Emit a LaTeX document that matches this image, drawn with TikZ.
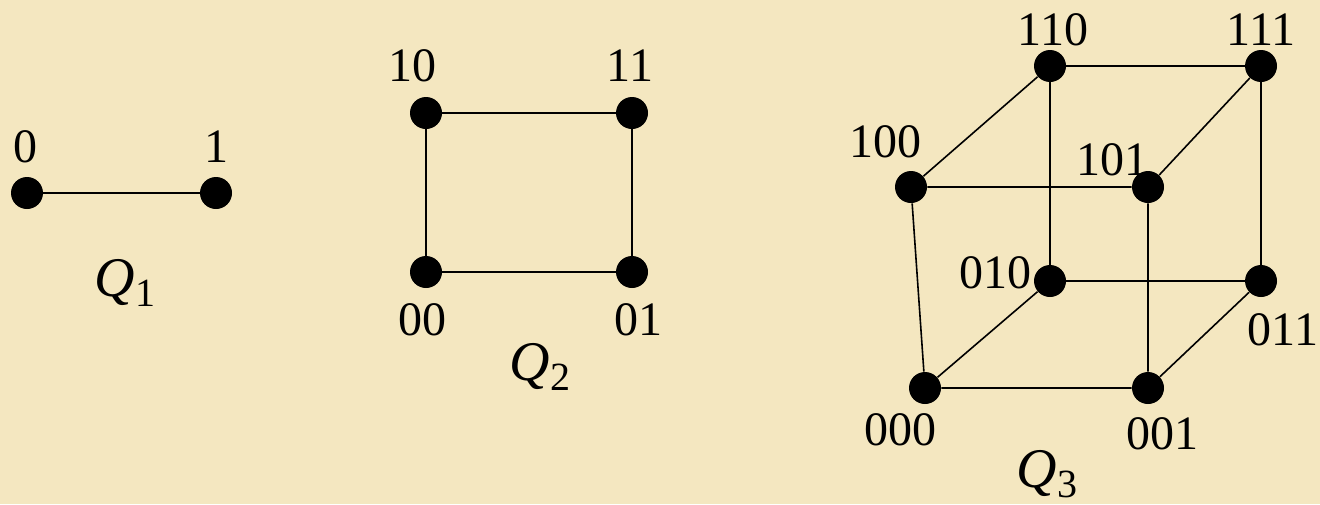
\documentclass[tikz,border=0pt]{standalone}
\usepackage{fontspec}
\setmainfont{Liberation Serif}
\usepackage{tikz}
\usetikzlibrary{positioning}
\definecolor{parchment}{RGB}{244,231,192}
\tikzset{
  vtx/.style={circle,fill=black,inner sep=0pt,minimum size=16pt},
  bits/.style={font=\fontsize{24}{28}\selectfont,inner sep=0pt},
  qname/.style={font=\fontsize{28}{32}\selectfont,inner sep=0pt},
  edge/.style={line width=0.8pt}
}
\newcommand{\qcube}[1]{\textit{Q}\raisebox{-0.4ex}{\fontsize{20}{22}\selectfont #1}}

\begin{document}
\begin{tikzpicture}[x=0.5pt,y=-0.5pt]
  \fill[parchment] (0,0) rectangle (1320,504);
  \useasboundingbox (0,0) rectangle (1320,504);
  % Q1
  \foreach \x/\y/\name in {27/193/0, 216/193/1}{
    \node[vtx] (v\name) at (\x,\y) {};
  }
  \node[bits] (l0) at (25,147) {0};
  \node[bits] (l1) at (216,147) {1};
  \draw[edge] (v0) -- (v1);
  \node[qname] (q1) at (125,283) {\qcube{1}};
  % Q2
  \foreach \x/\y/\name in {426/113/10, 632/113/11, 426/272/00, 632/272/01}{
    \node[vtx] (v\name) at (\x,\y) {};
  }
  \node[bits] (l10) at (412,66) {10};
  \node[bits] (l11) at (630,66) {11};
  \node[bits] (l00) at (422,320) {00};
  \node[bits] (l01) at (638,320) {01};
  \draw[edge] (v10) -- (v11) -- (v01) -- (v00) -- (v10);
  \node[qname] (q2) at (540,367) {\qcube{2}};
  % Q3
  \foreach \x/\y/\name in {1050/66/110, 1261/66/111, 911/187/100, 1148/187/101,
                           1050/281/010, 1261/281/011, 925/388/000, 1148/388/001}{
    \node[vtx] (v\name) at (\x,\y) {};
  }
  \node[bits] (l110) at (1053,30) {110};
  \node[bits] (l111) at (1261,30) {111};
  \node[bits] (l100) at (885,142) {100};
  \node[bits] (l101) at (1112,160) {101};
  \node[bits] (l010) at (995,273) {010};
  \node[bits] (l011) at (1283,330) {011};
  \node[bits] (l000) at (900,430) {000};
  \node[bits] (l001) at (1162,434) {001};
  \draw[edge] (v110) -- (v111) -- (v011) -- (v010) -- (v110);
  \draw[edge] (v100) -- (v101) -- (v001) -- (v000) -- (v100);
  \draw[edge] (v000) -- (v010);
  \draw[edge] (v001) -- (v011);
  \draw[edge] (v100) -- (v110);
  \draw[edge] (v101) -- (v111);
  \node[qname] (q3) at (1047,474) {\qcube{3}};
\end{tikzpicture}
\end{document}
